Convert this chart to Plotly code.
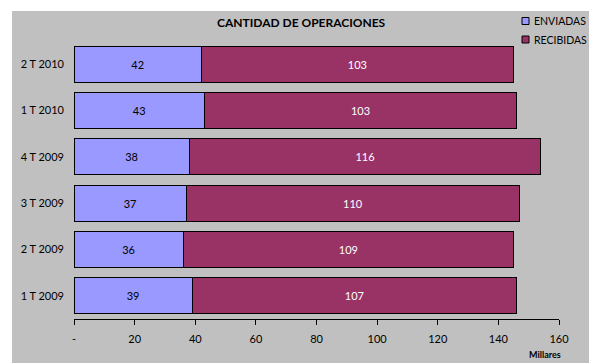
import plotly.graph_objects as go

# Data
periodos = ["1 T 2009", "2 T 2009", "3 T 2009", "4 T 2009", "1 T 2010", "2 T 2010"]
enviadas = [39, 36, 37, 38, 43, 42]
recibidas = [107, 109, 110, 116, 103, 103]
x_tickvals = [0, 20, 40, 60, 80, 100, 120, 140, 160]
x_ticktext = ["-", "20", "40", "60", "80", "100", "120", "140", "160"]

C_ENV = "#9999FF"
C_REC = "#993366"
GRAY = "#C0C0C0"
FONT = "Lato"

W, H = 589, 363
L, R, T, B = 74, 30, 41, 44
PW, PH = W - L - R, H - T - B


def px(xp):
    return (xp - L) / PW


def py(yp):
    return (H - B - yp) / PH


fig = go.Figure()
fig.add_trace(go.Bar(
    y=periodos, x=enviadas, orientation="h", name="ENVIADAS",
    marker=dict(color=C_ENV, line=dict(color="#000000", width=1)),
    text=enviadas, texttemplate="%{text}", textposition="inside",
    insidetextanchor="middle", textangle=0,
    textfont=dict(family=FONT, size=11, color="#000000"),
    showlegend=False,
))
fig.add_trace(go.Bar(
    y=periodos, x=recibidas, orientation="h", name="RECIBIDAS",
    marker=dict(color=C_REC, line=dict(color="#000000", width=1)),
    text=recibidas, texttemplate="%{text}", textposition="inside",
    insidetextanchor="middle", textangle=0,
    textfont=dict(family=FONT, size=11, color="#FFFFFF"),
    showlegend=False,
))

shapes = [
    dict(type="rect", xref="paper", yref="paper", layer="below",
         x0=px(12), x1=px(W + 5), y0=py(H + 5), y1=py(11),
         fillcolor=GRAY, line=dict(width=0)),
]
annotations = [
    dict(text="<b>CANTIDAD DE OPERACIONES</b>", xref="paper", yref="paper",
         x=px(301), y=py(23), xanchor="center", yanchor="middle", showarrow=False,
         font=dict(family=FONT, size=12, color="#000000")),
    dict(text="<b>Millares</b>", xref="paper", yref="paper",
         x=px(545), y=py(354), xanchor="center", yanchor="middle", showarrow=False,
         font=dict(family=FONT, size=9, color="#000000")),
]
# legend
for name, col, cy in [("ENVIADAS", C_ENV, 21), ("RECIBIDAS", C_REC, 39.5)]:
    shapes.append(dict(type="rect", xref="paper", yref="paper",
                       x0=px(522), x1=px(529), y0=py(cy + 3.5), y1=py(cy - 3.5),
                       fillcolor=col, line=dict(color="#000000", width=1)))
    annotations.append(dict(text=name, xref="paper", yref="paper",
                            x=px(532), y=py(cy), xanchor="left", yanchor="middle",
                            showarrow=False,
                            font=dict(family=FONT, size=10.5, color="#000000")))

fig.update_layout(
    width=W, height=H,
    margin=dict(l=L, r=R, t=T, b=B, pad=0),
    paper_bgcolor="#FFFFFF",
    plot_bgcolor="rgba(0,0,0,0)",
    barmode="stack",
    bargap=0.22,
    font=dict(family=FONT, size=11, color="#000000"),
    shapes=shapes,
    annotations=annotations,
    xaxis=dict(range=[0, 160], tickvals=x_tickvals, ticktext=x_ticktext,
               showgrid=False, zeroline=False, showline=True, linecolor="#000000",
               linewidth=1, ticks="outside", ticklen=5, tickcolor="#000000",
               ticklabelstandoff=5,
               tickfont=dict(family=FONT, size=11, color="#000000"), fixedrange=True),
    yaxis=dict(categoryorder="array", categoryarray=periodos,
               showgrid=False, zeroline=False, showline=False, ticks="",
               ticklabelstandoff=9,
               tickfont=dict(family=FONT, size=11, color="#000000"), fixedrange=True),
)

fig.write_html("out.html")
